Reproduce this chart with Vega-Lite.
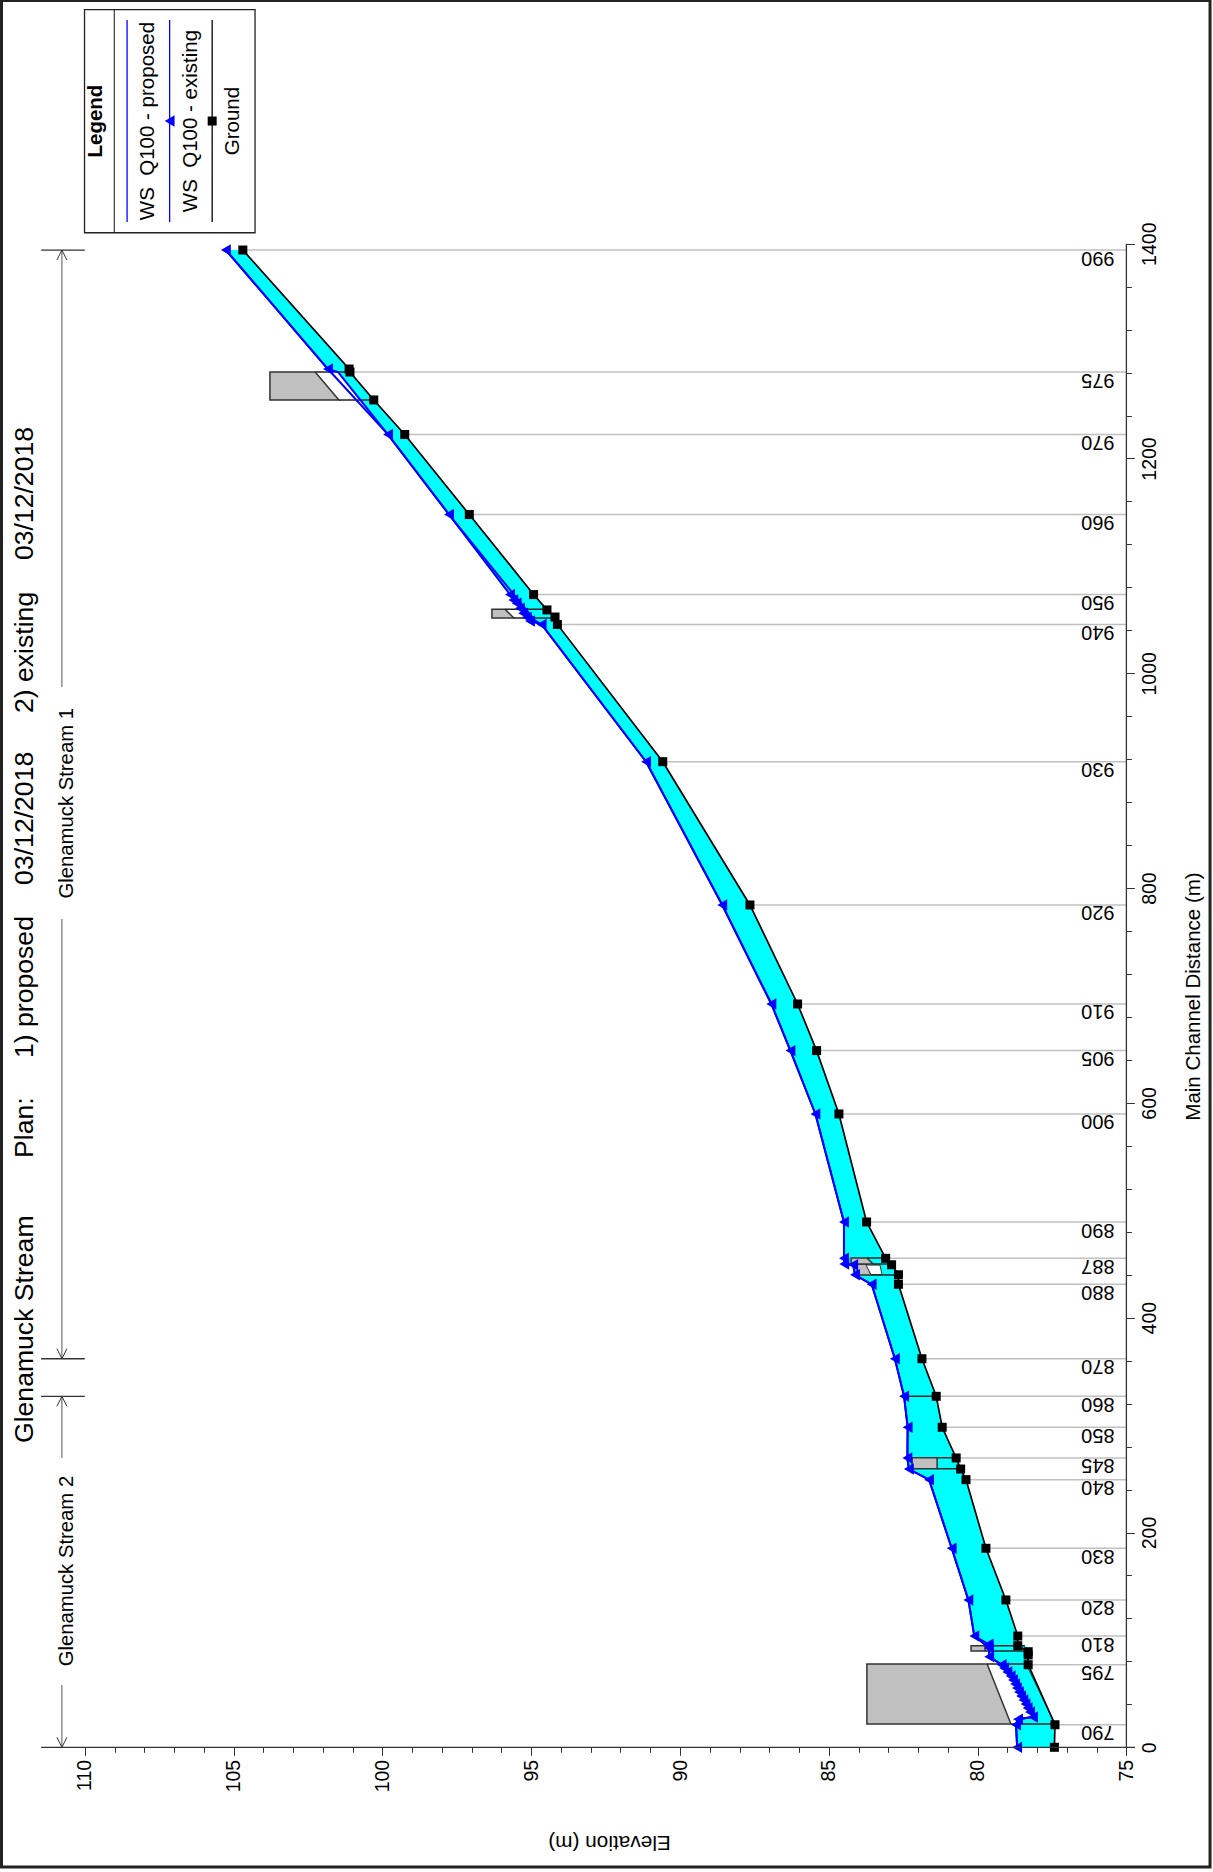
{
"$schema":"https://vega.github.io/schema/vega-lite/v6.json",
"width":1213,"height":1872,"padding":0,"autosize":{"type":"none"},
"background":"white",
"config":{"font":"Liberation Sans","view":{"stroke":null}},
"datasets":{
"water":[{"d":0,"e":78.67,"e2":77.42},{"d":21,"e":78.71,"e2":77.40},{"d":26.1,"e":78.64,"e2":77.48},{"d":28.2,"e":78.14,"e2":77.51},{"d":44,"e":78.46,"e2":77.77},{"d":62.7,"e":78.81,"e2":78.07},{"d":76.9,"e":79.19,"e2":78.30},{"d":84.4,"e":79.61,"e2":78.30},{"d":92.5,"e":79.62,"e2":78.30},{"d":94.6,"e":79.62,"e2":78.41},{"d":94.7,"e":79.62,"e2":78.65},{"d":103.6,"e":80.11,"e2":78.65},{"d":137.2,"e":80.31,"e2":79.05},{"d":185.3,"e":80.87,"e2":79.72},{"d":249.2,"e":81.63,"e2":80.39},{"d":259.1,"e":82.31,"e2":80.57},{"d":269.4,"e":82.36,"e2":80.72},{"d":298,"e":82.35,"e2":81.19},{"d":326.8,"e":82.47,"e2":81.39},{"d":361.8,"e":82.78,"e2":81.87},{"d":431.1,"e":83.56,"e2":82.66},{"d":440,"e":84.12,"e2":82.66},{"d":449.3,"e":84.18,"e2":82.89},{"d":450,"e":84.48,"e2":82.89},{"d":455.3,"e":84.49,"e2":83.09},{"d":489.1,"e":84.49,"e2":83.73},{"d":589.7,"e":85.45,"e2":84.66},{"d":648.7,"e":86.29,"e2":85.41},{"d":692.1,"e":86.93,"e2":86.05},{"d":784.3,"e":88.58,"e2":87.65},{"d":917.7,"e":91.14,"e2":90.58},{"d":1045.5,"e":94.65,"e2":94.12},{"d":1048.7,"e":95.04,"e2":94.15},{"d":1052.1,"e":95.15,"e2":94.2},{"d":1055.9,"e":95.27,"e2":94.33},{"d":1060.5,"e":95.38,"e2":94.5},{"d":1065.2,"e":95.49,"e2":94.65},{"d":1068.2,"e":95.6,"e2":94.75},{"d":1073.3,"e":95.71,"e2":94.92},{"d":1147.8,"e":97.76,"e2":97.08},{"d":1222.3,"e":99.81,"e2":99.25},{"d":1254.5,"e":100.75,"e2":100.29},{"d":1280.5,"e":101.49,"e2":101.09},{"d":1283.3,"e":101.83,"e2":101.12},{"d":1394.1,"e":105.26,"e2":104.69}],
"existing":[{"d":0,"e":78.67},{"d":21,"e":78.71},{"d":26.1,"e":78.64},{"d":28.2,"e":78.14},{"d":32.9,"e":78.24},{"d":36.6,"e":78.32},{"d":40.3,"e":78.39},{"d":44,"e":78.46},{"d":47.8,"e":78.54},{"d":51.5,"e":78.61},{"d":55.2,"e":78.68},{"d":58.9,"e":78.74},{"d":62.7,"e":78.81},{"d":66.4,"e":78.89},{"d":70.1,"e":79.0},{"d":73.8,"e":79.11},{"d":76.9,"e":79.19},{"d":84.4,"e":79.61},{"d":92.5,"e":79.62},{"d":96,"e":79.63},{"d":103.6,"e":80.11},{"d":137.2,"e":80.31},{"d":185.3,"e":80.87},{"d":249.2,"e":81.63},{"d":259.1,"e":82.31},{"d":269.4,"e":82.36},{"d":298,"e":82.35},{"d":326.8,"e":82.47},{"d":361.8,"e":82.78},{"d":431.1,"e":83.56},{"d":440,"e":84.12},{"d":449.3,"e":84.18},{"d":450,"e":84.48},{"d":455.3,"e":84.49},{"d":489.1,"e":84.49},{"d":589.7,"e":85.45},{"d":648.7,"e":86.29},{"d":692.1,"e":86.93},{"d":784.3,"e":88.58},{"d":917.7,"e":91.14},{"d":1045.5,"e":94.65},{"d":1048.7,"e":95.04},{"d":1052.1,"e":95.15},{"d":1055.9,"e":95.27},{"d":1060.5,"e":95.38},{"d":1065.2,"e":95.49},{"d":1068.2,"e":95.6},{"d":1073.3,"e":95.71},{"d":1147.8,"e":97.76},{"d":1222.3,"e":99.81},{"d":1283.3,"e":101.83},{"d":1394.1,"e":105.26}],
"proposed":[{"d":0,"e":78.67},{"d":21,"e":78.71},{"d":26.1,"e":78.64},{"d":28.2,"e":78.14},{"d":44,"e":78.46},{"d":62.7,"e":78.81},{"d":76.9,"e":79.19},{"d":84.4,"e":79.61},{"d":92.5,"e":79.62},{"d":103.6,"e":80.11},{"d":137.2,"e":80.31},{"d":185.3,"e":80.87},{"d":249.2,"e":81.63},{"d":259.1,"e":82.31},{"d":269.4,"e":82.36},{"d":298,"e":82.35},{"d":326.8,"e":82.47},{"d":361.8,"e":82.78},{"d":431.1,"e":83.56},{"d":440,"e":84.12},{"d":449.3,"e":84.18},{"d":450,"e":84.48},{"d":455.3,"e":84.49},{"d":489.1,"e":84.49},{"d":589.7,"e":85.45},{"d":648.7,"e":86.29},{"d":692.1,"e":86.93},{"d":784.3,"e":88.58},{"d":917.7,"e":91.14},{"d":1045.5,"e":94.65},{"d":1049,"e":94.87},{"d":1147.8,"e":97.76},{"d":1222.3,"e":99.81},{"d":1280.5,"e":101.49},{"d":1283.3,"e":101.83},{"d":1394.1,"e":105.26}],
"ground":[{"d":0,"e":77.42},{"d":21,"e":77.40},{"d":76.9,"e":78.30},{"d":86,"e":78.30},{"d":89,"e":78.30},{"d":94.6,"e":78.65},{"d":103.6,"e":78.65},{"d":137.2,"e":79.05},{"d":185.3,"e":79.72},{"d":249.2,"e":80.39},{"d":259.1,"e":80.57},{"d":269.4,"e":80.72},{"d":298,"e":81.19},{"d":326.8,"e":81.39},{"d":361.8,"e":81.87},{"d":431.1,"e":82.66},{"d":440,"e":82.66},{"d":449.3,"e":82.89},{"d":455.3,"e":83.09},{"d":489.1,"e":83.73},{"d":589.7,"e":84.66},{"d":648.7,"e":85.41},{"d":692.1,"e":86.05},{"d":784.3,"e":87.65},{"d":917.7,"e":90.58},{"d":1045.5,"e":94.12},{"d":1052.4,"e":94.2},{"d":1059,"e":94.47},{"d":1073.3,"e":94.92},{"d":1147.8,"e":97.08},{"d":1222.3,"e":99.25},{"d":1254.5,"e":100.29},{"d":1280.5,"e":101.09},{"d":1283.3,"e":101.12},{"d":1394.1,"e":104.69}],
"stations":[{"label":"790","d":21,"e":77.40},{"label":"795","d":76.9,"e":78.30},{"label":"810","d":103.6,"e":78.65},{"label":"820","d":137.2,"e":79.05},{"label":"830","d":185.3,"e":79.72},{"label":"840","d":249.2,"e":80.39},{"label":"845","d":269.4,"e":80.72},{"label":"850","d":298,"e":81.19},{"label":"860","d":326.8,"e":81.39},{"label":"870","d":361.8,"e":81.87},{"label":"880","d":431.1,"e":82.66},{"label":"887","d":455.3,"e":83.09},{"label":"890","d":489.1,"e":83.73},{"label":"900","d":589.7,"e":84.66},{"label":"905","d":648.7,"e":85.41},{"label":"910","d":692.1,"e":86.05},{"label":"920","d":784.3,"e":87.65},{"label":"930","d":917.7,"e":90.58},{"label":"940","d":1045.5,"e":94.12},{"label":"950","d":1073.3,"e":94.92},{"label":"960","d":1147.8,"e":97.08},{"label":"970","d":1222.3,"e":99.25},{"label":"975","d":1280.5,"e":101.09},{"label":"990","d":1394.1,"e":104.69}],
"decks":[{"id":"795","d":21.7,"e":83.72,"e2":78.88},{"id":"795","d":77.6,"e":83.72,"e2":79.68},{"id":"805","d":89.7,"e":80.22,"e2":79.75},{"id":"805","d":94.6,"e":80.22,"e2":79.75},{"id":"845","d":259.4,"e":82.20,"e2":81.36},{"id":"845","d":269.6,"e":82.20,"e2":81.36},{"id":"887b","d":439.8,"e":84.05,"e2":83.58},{"id":"887b","d":450,"e":84.05,"e2":83.72},{"id":"887a","d":450,"e":84.25,"e2":83.51},{"id":"887a","d":455.6,"e":84.25,"e2":83.72},{"id":"945","d":1051.5,"e":96.32,"e2":95.58},{"id":"945","d":1059.6,"e":96.32,"e2":95.88},{"id":"975","d":1254.5,"e":103.78,"e2":101.46},{"id":"975","d":1280.5,"e":103.78,"e2":102.26}],
"opening":[{"d":440,"e":83.58,"e2":83.21},{"d":449,"e":83.75,"e2":83.28}],
"deckLines":[{"d":77.6,"e":79.68,"e2":78.30},{"d":21.7,"e":78.88,"e2":77.40},{"d":94.6,"e":79.75,"e2":78.41},{"d":89.7,"e":79.75,"e2":78.30},{"d":269.6,"e":81.36,"e2":80.72},{"d":259.4,"e":81.36,"e2":80.57},{"d":326.8,"e":82.47,"e2":81.39},{"d":455.6,"e":83.72,"e2":83.09},{"d":450,"e":83.51,"e2":82.89},{"d":439.8,"e":83.58,"e2":82.66},{"d":1059.6,"e":95.88,"e2":94.47},{"d":1051.5,"e":95.58,"e2":94.2},{"d":1280.5,"e":102.26,"e2":101.09},{"d":1254.5,"e":101.46,"e2":100.29}],
"invert":[{"d":24.5,"e":77.44},{"d":76,"e":78.35}],
"reachEnds":[{"d":1394.1,"e":111.47,"e2":110.0},{"d":361.8,"e":111.47,"e2":110.0},{"d":326.8,"e":111.47,"e2":110.0},{"d":0,"e":111.47,"e2":74.71}],
"reachLines":[{"d":361.8,"d2":771.2,"e":110.77},{"d":987.2,"d2":1394.1,"e":110.77},{"d":0,"d2":58,"e":110.77},{"d":269.4,"d2":326.8,"e":110.77}],
"arrowsUp":[{"d":1394.1,"e":110.77},{"d":326.8,"e":110.77}],
"arrowsDown":[{"d":361.8,"e":110.77},{"d":0,"e":110.77}],
"rightAxis":[{"e":75,"d":0,"d2":1400}],
"frame":[{"e":112.8,"e2":72.19,"d":1626.4,"d2":-111.4}],
"legendBox":[{"e":110.01,"e2":104.28,"d":1617.9,"d2":1410.2}],
"legendDivider":[{"e":109.01,"d":1617.9,"d2":1410.2}],
"legendBlue":[{"e":108.58,"d":1608.3,"d2":1420.2},{"e":107.15,"d":1608.3,"d2":1420.2}],
"legendBlack":[{"e":105.72,"d":1608.3,"d2":1420.2}],
"legendTri":[{"e":107.15,"d":1514.2}],
"legendSq":[{"e":105.72,"d":1514.2}],
"legendText":[{"t":"WS\u00a0\u00a0Q100 - proposed","e":107.66,"d":1514.2},{"t":"WS\u00a0\u00a0Q100 - existing","e":106.24,"d":1514.2},{"t":"Ground","e":104.81,"d":1514.2}],
"legendTitle":[{"t":"Legend","e":109.42,"d":1514.2}],
"streams":[{"t":"Glenamuck Stream 1","e":110.40,"d":879},{"t":"Glenamuck Stream 2","e":110.40,"d":164.1}],
"titles":[{"t":"Glenamuck Stream","e":111.74,"d":283.3},{"t":"Plan:","e":111.74,"d":548.7},{"t":"1) proposed","e":111.74,"d":641.8},{"t":"03/12/2018","e":111.74,"d":803},{"t":"2) existing","e":111.74,"d":963},{"t":"03/12/2018","e":111.74,"d":1105.4}]
},
"encoding":{
"x":{"field":"e","type":"quantitative","scale":{"domain":[112.85,72.09],"nice":false,"zero":false},"axis":null},
"y":{"field":"d","type":"quantitative","scale":{"domain":[-116.1,1626.9],"nice":false,"zero":false},"axis":null}
},
"layer":[
{"data":{"name":"stations"},"mark":{"type":"rule","color":"#c0c0c0","strokeWidth":1.5},
 "encoding":{"x":{"field":"e","type":"quantitative","scale":{"domain":[112.85,72.09],"nice":false,"zero":false},
   "axis":{"orient":"bottom","offset":-124.7,"values":[75,80,85,90,95,100,105,110],"format":"d","labelAngle":-90,"labelFontSize":19.5,"labelColor":"#000","tickSize":8,"tickColor":"#333","domain":false,"grid":false,"labelPadding":4,"title":"Elevation (m)","titleFontSize":20.8,"titleFontWeight":"normal","titleAngle":180,"titleX":609,"titleY":94,"titleAlign":"center","titleBaseline":"middle","titleColor":"#000"}},
  "y":{"field":"d","type":"quantitative","scale":{"domain":[-116.1,1626.9],"nice":false,"zero":false},
   "axis":{"orient":"right","offset":-86.6,"values":[0,200,400,600,800,1000,1200,1400],"format":"d","labelAngle":-90,"labelFontSize":19.5,"labelColor":"#000","tickSize":8,"tickColor":"#333","domain":false,"grid":false,"labelPadding":6,"title":"Main Channel Distance (m)","titleFontSize":20.5,"titleFontWeight":"normal","titleAngle":-90,"titleX":73,"titleY":996,"titleAlign":"center","titleBaseline":"alphabetic","titleColor":"#000"}},
  "x2":{"datum":75}}},
{"data":{"name":"stations"},"mark":{"type":"rule","opacity":0},
 "encoding":{"x":{"field":"e","type":"quantitative","scale":{"domain":[112.85,72.09],"nice":false,"zero":false},
   "axis":{"orient":"bottom","offset":-124.7,"values":[76,77,78,79,81,82,83,84,86,87,88,89,91,92,93,94,96,97,98,99,101,102,103,104,106,107,108,109],"labels":false,"tickSize":5,"tickColor":"#333","domain":false,"grid":false,"title":null}},
  "y":{"field":"d","type":"quantitative","scale":{"domain":[-116.1,1626.9],"nice":false,"zero":false},
   "axis":{"orient":"right","offset":-86.6,"values":[40,80,120,160,240,280,320,360,440,480,520,560,640,680,720,760,840,880,920,960,1040,1080,1120,1160,1240,1280,1320,1360],"labels":false,"tickSize":5,"tickColor":"#333","domain":false,"grid":false,"title":null}}}},
{"data":{"name":"water"},"mark":{"type":"area","orient":"horizontal","fill":"#00ffff","stroke":null},"encoding":{"x2":{"field":"e2"}}},
{"data":{"name":"decks"},"mark":{"type":"area","orient":"horizontal","fill":"#c0c0c0","stroke":"#333333","strokeWidth":1.5},"encoding":{"x2":{"field":"e2"},"detail":{"field":"id"}}},
{"data":{"name":"opening"},"mark":{"type":"area","orient":"horizontal","fill":"#ffffff","stroke":"#333333","strokeWidth":1},"encoding":{"x2":{"field":"e2"}}},
{"data":{"name":"deckLines"},"mark":{"type":"rule","color":"#222222","strokeWidth":1.5},"encoding":{"x2":{"field":"e2"}}},
{"data":{"name":"invert"},"mark":{"type":"line","color":"#005f5f","strokeWidth":1},"encoding":{"order":{"field":"d","type":"quantitative"}}},
{"data":{"name":"proposed"},"mark":{"type":"line","color":"#0000ff","strokeWidth":2},"encoding":{"order":{"field":"d","type":"quantitative"}}},
{"data":{"name":"existing"},"mark":{"type":"line","color":"#0000ff","strokeWidth":2},"encoding":{"order":{"field":"d","type":"quantitative"}}},
{"data":{"name":"existing"},"mark":{"type":"point","shape":"triangle-left","filled":true,"color":"#0000ff","size":130,"opacity":1}},
{"data":{"name":"ground"},"mark":{"type":"line","color":"#000000","strokeWidth":1.7},"encoding":{"order":{"field":"d","type":"quantitative"}}},
{"data":{"name":"ground"},"mark":{"type":"point","shape":"square","filled":true,"color":"#000000","size":81,"opacity":1}},
{"data":{"name":"stations"},"mark":{"type":"text","angle":180,"align":"center","baseline":"alphabetic","dy":-1.5,"fontSize":20,"color":"#000"},"encoding":{"x":{"datum":75.96,"scale":{"domain":[112.85,72.09],"nice":false,"zero":false},"axis":null},"text":{"field":"label"}}},
{"data":{"name":"reachEnds"},"mark":{"type":"rule","color":"#333333","strokeWidth":1.3},"encoding":{"x2":{"field":"e2"}}},
{"data":{"name":"rightAxis"},"mark":{"type":"rule","color":"#333333","strokeWidth":1.3},"encoding":{"y2":{"field":"d2"}}},
{"data":{"name":"reachLines"},"mark":{"type":"rule","color":"#555555","strokeWidth":1},"encoding":{"y2":{"field":"d2"}}},
{"data":{"name":"arrowsUp"},"mark":{"type":"point","shape":"M-1,2L0,0L1,2","filled":false,"color":"#333333","size":100,"strokeWidth":1,"opacity":1}},
{"data":{"name":"arrowsDown"},"mark":{"type":"point","shape":"M-1,-2L0,0L1,-2","filled":false,"color":"#333333","size":100,"strokeWidth":1,"opacity":1}},
{"data":{"name":"streams"},"mark":{"type":"text","angle":270,"align":"center","baseline":"alphabetic","fontSize":20.3,"color":"#000"},"encoding":{"text":{"field":"t"}}},
{"data":{"name":"titles"},"mark":{"type":"text","angle":270,"align":"left","baseline":"alphabetic","fontSize":26.6,"color":"#000"},"encoding":{"text":{"field":"t"}}},
{"data":{"name":"legendBox"},"mark":{"type":"rect","fill":"#ffffff","stroke":"#222222","strokeWidth":1.3},"encoding":{"x2":{"field":"e2"},"y2":{"field":"d2"}}},
{"data":{"name":"legendDivider"},"mark":{"type":"rule","color":"#111111","strokeWidth":1},"encoding":{"y2":{"field":"d2"}}},
{"data":{"name":"legendBlue"},"mark":{"type":"rule","color":"#0000ff","strokeWidth":1.3},"encoding":{"y2":{"field":"d2"}}},
{"data":{"name":"legendBlack"},"mark":{"type":"rule","color":"#000000","strokeWidth":1.3},"encoding":{"y2":{"field":"d2"}}},
{"data":{"name":"legendTri"},"mark":{"type":"point","shape":"triangle-left","filled":true,"color":"#0000ff","size":130,"opacity":1}},
{"data":{"name":"legendSq"},"mark":{"type":"point","shape":"square","filled":true,"color":"#000000","size":81,"opacity":1}},
{"data":{"name":"legendText"},"mark":{"type":"text","angle":270,"align":"center","baseline":"alphabetic","fontSize":20.5,"color":"#000"},"encoding":{"text":{"field":"t"}}},
{"data":{"name":"legendTitle"},"mark":{"type":"text","angle":270,"align":"center","baseline":"alphabetic","fontSize":20.5,"fontWeight":"bold","color":"#000"},"encoding":{"text":{"field":"t"}}},
{"data":{"name":"frame"},"mark":{"type":"rect","fill":null,"stroke":"#222222","strokeWidth":3},"encoding":{"x2":{"field":"e2"},"y2":{"field":"d2"}}}
],
"resolve":{"axis":{"x":"independent","y":"independent"}}
}
